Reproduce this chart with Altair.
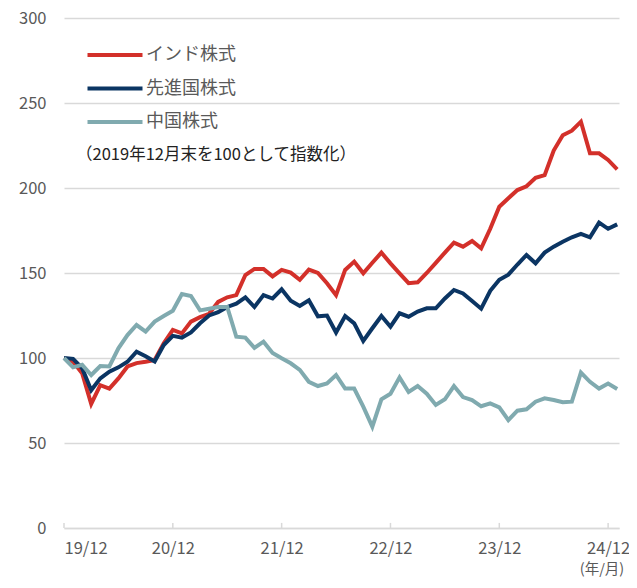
import altair as alt
import pandas as pd

months = list(range(62))
india = [100, 97.8, 91, 73, 84, 82, 88, 95, 97, 97.8,
         98.8, 108.6, 116.5, 114.5, 121.4, 124, 126, 133, 135.7, 137,
         148.8, 152.4, 152.4, 148, 151.8, 150.2, 146, 152, 150, 144,
         137, 151.8, 156.7, 149.8, 156, 162, 155.7, 149.8, 144, 144.5,
         150, 156, 162, 167.8, 165.5, 168.8, 164.5, 176, 189, 194,
         198.8, 201, 206, 207.6, 222, 231, 233.7, 239, 220.4, 220.4,
         216.5, 211]
developed = [100, 99.5, 94, 81, 88, 92, 94.5, 97.8, 103.7, 101,
             98, 107.6, 113, 112, 115, 120.4, 125, 127, 130, 132,
             135.7, 130, 137, 135, 140.4, 133.7, 130.6, 134, 124.5, 125,
             115, 124.7, 120.4, 110, 117.5, 124.7, 118.4, 126.3, 124.3, 127.3,
             129.2, 129.2, 135, 140, 138, 133.5, 129, 139.5, 146, 149,
             155, 160.6, 155.7, 162, 165.5, 168.4, 171, 173, 171, 179.6,
             176, 178.6]
china = [100, 94.5, 96, 90, 95.3, 95, 105.7, 113.5, 119.4, 115.5,
         121.4, 124.7, 127.8, 137.6, 136.5, 128, 129, 130, 130, 112.5,
         112, 106, 109.6, 103, 99.8, 96.9, 93, 86, 83.5, 85,
         90, 82, 82, 71.4, 59.6, 75.7, 79, 88.6, 80, 83.5,
         79, 72.4, 75.7, 83.5, 77, 75.3, 71.6, 73.3, 71, 63.5,
         69, 69.8, 74.3, 76.3, 75.3, 74, 74.3, 91.4, 86, 82,
         85, 81.8]

series_names = ["インド株式", "先進国株式", "中国株式"]
series_colors = ["#d3302a", "#0b3563", "#80aaaf"]
tick_months = [0, 12, 24, 36, 48, 60]
tick_labels = ["19/12", "20/12", "21/12", "22/12", "23/12", "24/12"]
y_ticks = [0, 50, 100, 150, 200, 250, 300]
note_text = "（2019年12月末を100として指数化）"
unit_text = "(年/月)"

rows = []
for name, vals in zip(series_names, [india, developed, china]):
    for m, v in zip(months, vals):
        rows.append({"month": m, "value": v, "series": name})
df = pd.DataFrame(rows)
tick_df = pd.DataFrame({"month": tick_months, "y0": [0] * len(tick_months), "y1": [3] * len(tick_months)})

FONT = "Noto Sans CJK JP"
label_expr = "[" + ",".join(f"'{t}'" for t in tick_labels) + "][round(datum.value/12)]"

x_scale = alt.Scale(domain=[0, 61.2], nice=False, zero=False)
y_scale = alt.Scale(domain=[0, 300], nice=False)

x = alt.X("month:Q", scale=x_scale,
          axis=alt.Axis(values=tick_months, labelExpr=label_expr, grid=False, ticks=False,
                        domainColor="#d9d9d9", domainWidth=1.5, labelFontSize=16.5,
                        labelColor="#595959", labelPadding=12, title=None, labelFont=FONT))
y = alt.Y("value:Q", scale=y_scale,
          axis=alt.Axis(values=y_ticks, grid=True, gridColor="#d9d9d9", gridWidth=1.5,
                        domain=False, ticks=False, labelPadding=18, labelFontSize=16.5,
                        labelColor="#595959", title=None, labelFont=FONT))

lines = alt.Chart(df).mark_line(strokeWidth=4).encode(
    x=x, y=y,
    color=alt.Color("series:N", sort=series_names,
                    scale=alt.Scale(domain=series_names, range=series_colors),
                    legend=alt.Legend(orient="none", legendX=42, legendY=28, title=None,
                                      symbolType="M-5,0H5", symbolSize=121, symbolStrokeWidth=4,
                                      labelFontSize=18, labelColor="#595959", labelFont=FONT,
                                      rowPadding=15.5, labelOffset=22, padding=0)),
)

ticks = alt.Chart(tick_df).mark_rule(color="#d9d9d9", strokeWidth=1.5).encode(
    x=alt.X("month:Q", scale=x_scale), y=alt.Y("y0:Q", scale=y_scale), y2="y1:Q")

note = alt.Chart(pd.DataFrame({"t": [note_text]})).mark_text(
    fontSize=16.5, color="#222222", font=FONT, align="left", baseline="middle"
).encode(x=alt.value(12), y=alt.value(137), text="t:N")

unit = alt.Chart(pd.DataFrame({"t": [unit_text]})).mark_text(
    fontSize=14.5, color="#595959", font=FONT, align="center", baseline="middle"
).encode(x=alt.value(538), y=alt.value(552), text="t:N")

chart = alt.layer(ticks, lines, note, unit).properties(
    width=555, height=510,
    padding={"left": 56, "top": 10, "right": 10, "bottom": 50},
    autosize=alt.AutoSizeParams(type="none"),
).configure_view(stroke=None)

chart.save("out.html", embed_options={"renderer": "svg", "actions": False})
